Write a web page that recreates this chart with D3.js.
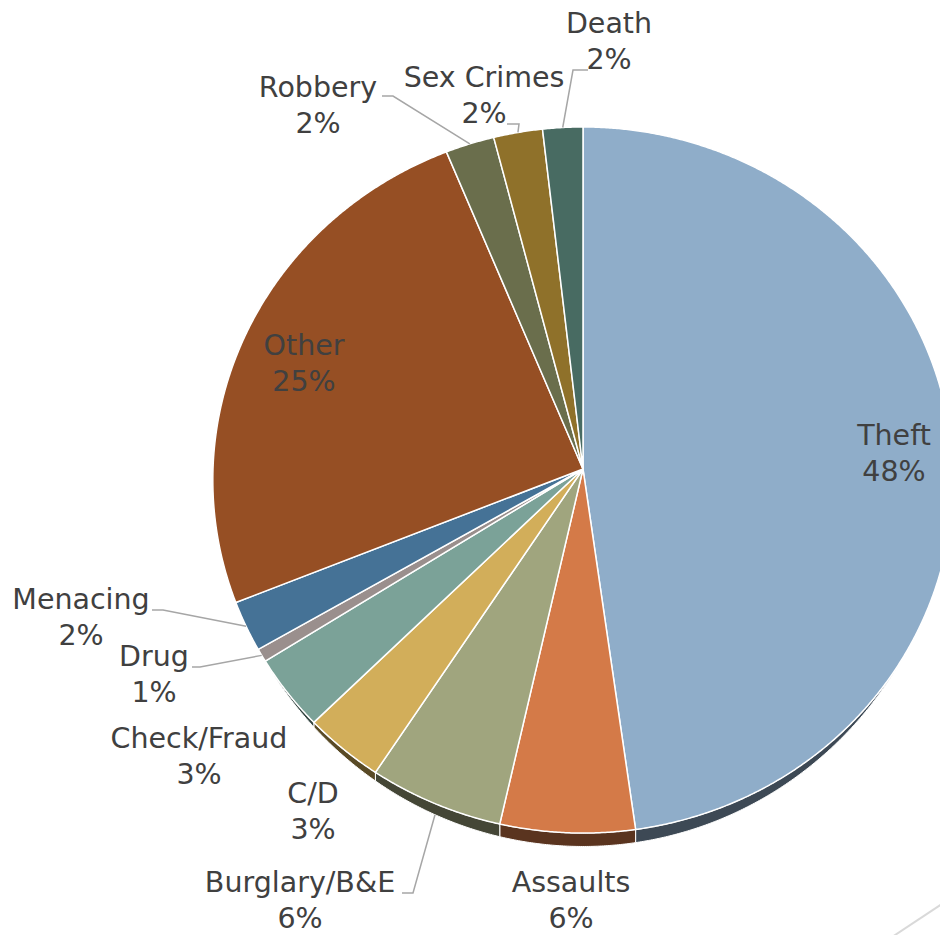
<!DOCTYPE html>
<html>
<head>
<meta charset="utf-8">
<script src="https://cdn.jsdelivr.net/npm/d3@7"></script>
<style>
  body { margin: 0; background: #fff; }
  text { font-family: "DejaVu Sans", sans-serif; font-size: 28.5px; fill: #404040; }
</style>
</head>
<body>
<div id="chart"></div>
<script>
// slice data, clockwise from 12 o'clock
var categories = ["Theft", "Assaults", "Burglary/B&E", "C/D", "Check/Fraud", "Drug", "Menacing", "Other", "Robbery", "Sex Crimes", "Death"];
var shares = [47.8, 5.7, 5.7, 3.4, 3.4, 0.6, 2.3, 24.9, 2.2, 2.2, 1.8];
var colors = ["#8fadc9", "#d47a48", "#a0a57e", "#d2ae5a", "#7ba298", "#9a8f8d", "#457296", "#964f24", "#6a6e4c", "#8f712a", "#486b62"];

// label layout: centre x, first baseline y
var labelAt = {
  "Theft": [894, 445], "Assaults": [571, 892], "Burglary/B&E": [300, 892], "C/D": [313, 803],
  "Check/Fraud": [199, 748], "Drug": [154, 666], "Menacing": [81, 609], "Other": [304, 355],
  "Robbery": [318, 97], "Sex Crimes": [484, 87], "Death": [609, 33]
};
// leader lines: start x, start y, elbow x (then on to the slice rim)
var leaders = {
  "Death": [588, 70, 573], "Sex Crimes": [507, 124, 519], "Robbery": [382, 96, 393],
  "Menacing": [152, 610, 163], "Drug": [192, 667, 200], "Burglary/B&E": [402, 893, 413]
};

var width = 940, height = 935;
var cx = 583, cy = 469, rx = 370, ry = 352.7, persp = 0.0312, depth = 13;
var sideCut = 0.54; // side only shows where the rim faces the viewer

var data = categories.map(function (c, i) { return { name: c, value: shares[i], color: colors[i] }; });
var total = d3.sum(shares);

var svg = d3.select("#chart").append("svg")
  .attr("width", width).attr("height", height);

//project a point of the tilted disc onto the page
function proj(a, r, down) {
  var X = r * Math.sin(a), Z = r * Math.cos(a);
  var k = 1 + persp * Z;
  return [cx + rx * X / k, cy - ry * Z / k + (down || 0) / k];
}

function sideDepth(a) {
  return depth * Math.max(0, (-Math.cos(a) - sideCut) / (1 - sideCut));
}

function rim(a0, a1, withSide) {
  var n = Math.max(2, Math.ceil(Math.abs(a1 - a0) / 0.005));
  return d3.range(n + 1).map(function (i) {
    var a = a0 + (a1 - a0) * i / n;
    return proj(a, 1, withSide ? sideDepth(a) : 0);
  });
}

var pie = d3.pie().sort(null).value(function (d) { return d.value; })
  .startAngle(0).endAngle(2 * Math.PI);
var arcs = pie(data);
var line = d3.line();
var sLo = Math.PI - Math.acos(sideCut), sHi = Math.PI + Math.acos(sideCut);

// sides on the near half
svg.append("g").selectAll("path")
  .data(arcs.filter(function (d) { return d.endAngle > sLo && d.startAngle < sHi; }))
  .enter().append("path")
  .attr("d", function (d) {
    var lo = Math.max(d.startAngle, sLo), hi = Math.min(d.endAngle, sHi);
    var pts = rim(lo, hi, false).concat(rim(hi, lo, true));
    return line(pts) + "Z";
  })
  .attr("fill", function (d) { return d3.color(d.data.color).darker(2.4); })
  .attr("stroke", "#fff").attr("stroke-width", 1).attr("stroke-linejoin", "round");

// top faces
svg.append("g").selectAll("path")
  .data(arcs).enter().append("path")
  .attr("d", function (d) {
    var pts = [proj(0, 0)].concat(rim(d.startAngle, d.endAngle, false));
    return line(pts) + "Z";
  })
  .attr("fill", function (d) { return d.data.color; })
  .attr("stroke", "#fff").attr("stroke-width", 1.5).attr("stroke-linejoin", "round");

// leader lines
svg.append("g").selectAll("path")
  .data(arcs.filter(function (d) { return leaders[d.data.name]; }))
  .enter().append("path")
  .attr("d", function (d) {
    var l = leaders[d.data.name];
    var mid = (d.startAngle + d.endAngle) / 2;
    var end = proj(mid, 1, sideDepth(mid));
    return line([[l[0], l[1]], [l[2], l[1]], end]);
  })
  .attr("fill", "none").attr("stroke", "#a6a6a6").attr("stroke-width", 1.5);

// labels
var lab = svg.append("g").selectAll("text")
  .data(arcs).enter().append("text")
  .attr("text-anchor", "middle")
  .attr("x", function (d) { return labelAt[d.data.name][0]; })
  .attr("y", function (d) { return labelAt[d.data.name][1]; });
lab.append("tspan").text(function (d) { return d.data.name; });
lab.append("tspan")
  .attr("x", function (d) { return labelAt[d.data.name][0]; })
  .attr("dy", 36)
  .text(function (d) { return Math.round(d.data.value / total * 100) + "%"; });

// stray slide line at the bottom right corner
svg.append("line")
  .attr("x1", 880).attr("y1", 945).attr("x2", 960).attr("y2", 892)
  .attr("stroke", "#d9d9d9").attr("stroke-width", 2);
</script>
</body>
</html>
